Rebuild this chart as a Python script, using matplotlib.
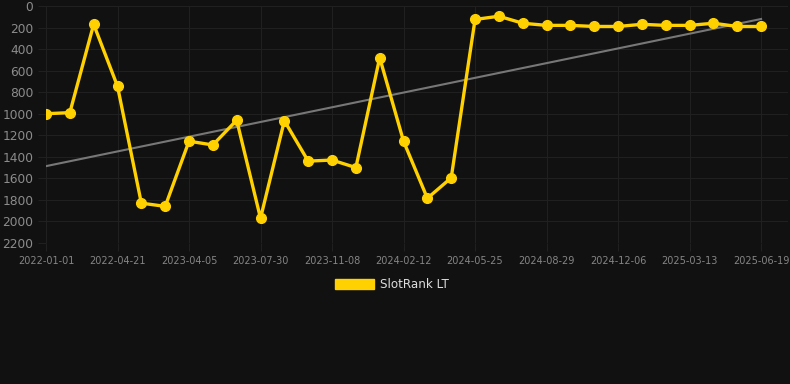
import numpy as np
import matplotlib
matplotlib.use("Agg")
import matplotlib.pyplot as plt
from matplotlib.patches import Rectangle

# rank values, one per sample (lower is better, axis inverted)
ranks = [1000, 990, 170, 745, 1830, 1860, 1255, 1290, 1060, 1970,
         1065, 1440, 1430, 1500, 480, 1255, 1785, 1595, 125, 95,
         160, 180, 180, 190, 190, 170, 180, 180, 160, 190, 190]

tick_labels = ['2022-01-01', '2022-04-21', '2023-04-05', '2023-07-30', '2023-11-08',
               '2024-02-12', '2024-05-25', '2024-08-29', '2024-12-06', '2025-03-13',
               '2025-06-19']
tick_step = 3
y_ticks = list(range(0, 2201, 200))

bg = '#111111'
gold = '#FFD100'

x = np.arange(len(ranks))
slope, intercept = np.polyfit(x, ranks, 1)
trend = slope * x + intercept

fig = plt.figure(figsize=(7.9, 3.84), dpi=100, facecolor=bg)
ax = fig.add_axes([46 / 790, 1 - 243 / 384, (788 - 46) / 790, (243 - 6) / 384])
ax.set_facecolor(bg)

ax.plot(x, trend, color='#777777', linewidth=1.5, zorder=2)
ax.plot(x, ranks, color=gold, linewidth=2.4, marker='o', markersize=7,
        markerfacecolor=gold, markeredgecolor=gold, zorder=3)

ax.set_ylim(2200, 0)
ax.set_xlim(0, len(ranks) - 1 + 1.13)
ax.set_yticks(y_ticks)
ax.set_xticks(x[::tick_step])
ax.set_xticklabels(tick_labels)

ax.grid(True, color='#202020', linewidth=0.8)
ax.set_axisbelow(True)
for s in ax.spines.values():
    s.set_visible(False)
ax.tick_params(axis='y', colors='#202020', labelcolor='#8c8c8c', labelsize=8.8,
               length=6, width=0.8, pad=3)
ax.tick_params(axis='x', colors='#202020', labelcolor='#858585', labelsize=7.0,
               length=6, width=0.8, pad=3)

# legend
fig.patches.append(Rectangle((335 / 790, 1 - 289 / 384), 39 / 790, 10 / 384,
                             transform=fig.transFigure, facecolor=gold,
                             edgecolor=gold, figure=fig))
fig.text(380 / 790, 1 - 285 / 384, 'SlotRank LT', color='#dddddd', fontsize=8.6,
         va='center', ha='left')

fig.savefig('out.png', dpi=100, facecolor=bg)
